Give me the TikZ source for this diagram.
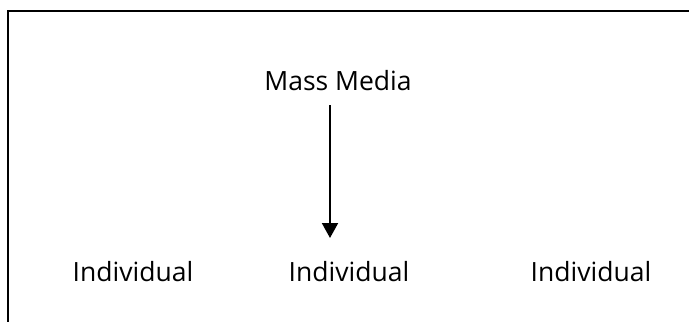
\documentclass[tikz,border=0pt]{standalone}
\usepackage{fontspec}
\setmainfont{Open Sans}
\usetikzlibrary{arrows.meta}

\begin{document}
\begin{tikzpicture}[x=1pt,y=-1pt,font=\fontsize{26.5}{30}\selectfont,
		label/.style={inner sep=0pt},
		flow/.style={line width=2pt,-{Triangle[length=15pt,width=16pt]}}]
		\useasboundingbox (0,0) rectangle (689,322);
		%%%
		\draw[line width=2pt] (689,11) -- (8,11) -- (8,322);
		%%%
		\node[label] (media) at (338,81) {Mass Media};
		\node[label] (indA) at (133,272) {Individual};
		\node[label] (indB) at (349,272) {Individual};
		\node[label] (indC) at (591,272) {Individual};
		%%%
		\coordinate (mediaout) at (330,105);
		\coordinate (indBin) at (330,238);
		\draw[flow] (mediaout) -- (indBin);
	\end{tikzpicture}
\end{document}
